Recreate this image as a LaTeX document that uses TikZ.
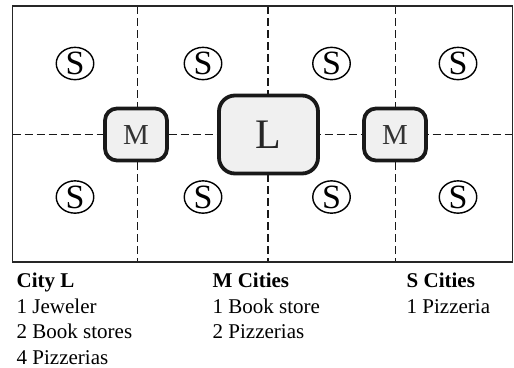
\documentclass[tikz,border=0pt]{standalone}
\usepackage{fontspec}
\setmainfont{Liberation Serif}
\usetikzlibrary{shapes.geometric}
\begin{document}
\begin{tikzpicture}[x=1bp,y=-1bp,
  grid/.style={line width=1.5bp, dash pattern=on 8bp off 4bp, draw=black!90},
  frame/.style={line width=1.5bp, draw=black!85},
  mbox/.style={draw=black!90, line width=3.8bp, fill=black!6, rounded corners=12bp,
     minimum width=62bp, minimum height=52bp, inner sep=0pt,
     font=\fontsize{29bp}{29bp}\selectfont, text=black!80},
  lbox/.style={draw=black!90, line width=3.8bp, fill=black!6, rounded corners=16bp,
     minimum width=99bp, minimum height=78bp, inner sep=0pt,
     font=\fontsize{42bp}{42bp}\selectfont, text=black!85},
  sell/.style={draw=black, line width=1.4bp, ellipse, minimum width=37.5bp, minimum height=29.5bp,
     inner sep=0pt, font=\fontsize{34bp}{34bp}\selectfont},
  lab/.style={anchor=base west, inner sep=0pt, font=\fontsize{21bp}{21bp}\selectfont},
  head/.style={lab, font=\fontsize{21bp}{21bp}\selectfont\bfseries}
]
\useasboundingbox (0,0) rectangle (514,367);
% frame corners
\coordinate (tl) at (12.5,6);
\coordinate (br) at (512.5,262);
% grid coordinates
\coordinate (v1t) at (137.3,6);   \coordinate (v1b) at (137.3,262);
\coordinate (v2t) at (268,6);   \coordinate (v2b) at (268,262);
\coordinate (v3t) at (395.5,6); \coordinate (v3b) at (395.5,262);
\coordinate (hl) at (12.5,134.5); \coordinate (hr) at (512.5,134.5);
\draw[grid] (v1t) -- (v1b);
\draw[grid] (v2t) -- (v2b);
\draw[grid] (v3t) -- (v3b);
\draw[grid] (hl) -- (hr);
\draw[frame] (tl) rectangle (br);
% boxes
\node[mbox] (m1) at (136,134.5) {M};
\node[lbox] (l) at (268.5,134.5) {L};
\node[mbox] (m2) at (395,134.5) {M};
% S cities
\node[sell] (s1) at (75,63.5) {S};
\node[sell] (s2) at (203,63.5) {S};
\node[sell] (s3) at (331.5,63.5) {S};
\node[sell] (s4) at (458,63.5) {S};
\node[sell] (s5) at (75,197) {S};
\node[sell] (s6) at (203,197) {S};
\node[sell] (s7) at (331.5,197) {S};
\node[sell] (s8) at (458,197) {S};
% legend
\node[head] (h1) at (16.5,287.5) {City L};
\node[lab] (a1) at (16.5,313) {1 Jeweler};
\node[lab] (a2) at (16.5,338.5) {2 Book stores};
\node[lab] (a3) at (16.5,364) {4 Pizzerias};
\node[head] (h2) at (212.5,287.5) {M Cities};
\node[lab] (b1) at (212.5,313) {1 Book store};
\node[lab] (b2) at (212.5,338.5) {2 Pizzerias};
\node[head] (h3) at (406.5,287.5) {S Cities};
\node[lab] (c1) at (406.5,313) {1 Pizzeria};
\end{tikzpicture}
\end{document}
